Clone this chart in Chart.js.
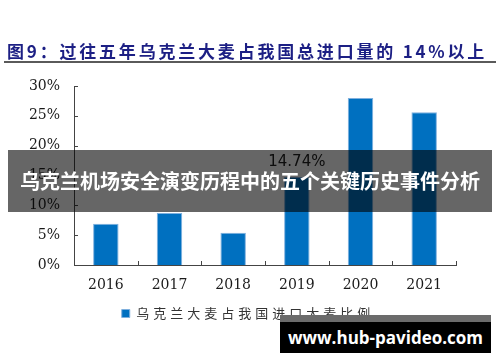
<!DOCTYPE html>
<html>
<head>
<meta charset="utf-8">
<script src="https://cdn.jsdelivr.net/npm/chart.js@4/dist/chart.umd.min.js"></script>
<style>
  html, body { margin: 0; padding: 0; background: #fff; }
  #wrap { position: relative; width: 500px; height: 362px; overflow: hidden; }
  #chart { position: absolute; left: 0; top: 0; }
  .title {
    position: absolute; left: 7px; top: 38px; white-space: nowrap;
    font: bold 17px "Noto Sans CJK SC", sans-serif; letter-spacing: 2.8px; color: #1c1f84;
  }
  .rule { position: absolute; left: 4px; top: 61px; width: 492px; height: 2px; background: #5a5a5a; }
  .banner {
    position: absolute; left: 8px; top: 150px; width: 484px; height: 62px;
    background: rgba(0, 0, 0, 0.6); color: #fff; text-align: center;
    font: bold 20px/62px "Noto Sans CJK SC", sans-serif; white-space: nowrap;
  }
  .mark {
    position: absolute; left: 280px; top: 315px; width: 211px; height: 31px;
    border-top: 7px solid #6b6b6b; background: #000; color: #fff; text-align: center;
    font: bold 17px/31px "Open Sans", sans-serif; white-space: nowrap;
  }
</style>
</head>
<body>
<div id="wrap">
  <canvas id="chart" width="500" height="362"></canvas>
  <div class="title">图9：过往五年乌克兰大麦占我国总进口量的 14%以上</div>
  <div class="rule"></div>
  <div class="banner">乌克兰机场安全演变历程中的五个关键历史事件分析</div>
  <div class="mark">www.hub-pavideo.com</div>
</div>
<script>
"use strict";

const years = ["2016", "2017", "2018", "2019", "2020", "2021"];
const shares = [6.9, 8.7, 5.4, 14.74, 28.0, 25.6];
const labelled = ["", "", "", "14.74%", "", ""];
const seriesName = "乌克兰大麦占我国进口大麦比例";
const yTicks = [0, 5, 10, 15, 20, 25, 30];

const kSerif = "'DejaVu Serif', 'Liberation Serif', serif";

// small ticks pointing into the plot, like the source figure
const innerTicks = {
    id: "innerTicks",
    afterDraw(chart) {
        const { ctx, chartArea: area, scales: { y } } = chart;
        ctx.save();
        ctx.strokeStyle = "#444";
        ctx.lineWidth = 1;
        ctx.beginPath();
        for (const v of yTicks) {
            const py = Math.round(y.getPixelForValue(v)) + 0.5;
            ctx.moveTo(area.left, py);
            ctx.lineTo(area.left + 4, py);
        }
        const step = (area.right - area.left) / years.length;
        for (let i = 1; i <= years.length; i++) {
            const px = Math.round(area.left + i * step) + 0.5;
            ctx.moveTo(px, area.bottom);
            ctx.lineTo(px, area.bottom - 4);
        }
        ctx.stroke();
        ctx.restore();
    }
};

// value label above the 2019 bar
const valueLabels = {
    id: "valueLabels",
    afterDatasetsDraw(chart) {
        const { ctx } = chart;
        const meta = chart.getDatasetMeta(0);
        ctx.save();
        ctx.font = "15px 'DejaVu Sans', sans-serif";
        ctx.fillStyle = "#222";
        ctx.textAlign = "center";
        ctx.textBaseline = "middle";
        meta.data.forEach((bar, i) => {
            if (labelled[i]) {
                ctx.fillText(labelled[i], bar.x, bar.y - 15);
            }
        });
        ctx.restore();
    }
};

// letter-spaced legend text, nudged right to sit under the plot
const spacedLegend = {
    id: "spacedLegend",
    afterInit(chart) {
        const legend = chart.legend;
        const wrap = (fn, shift) => function wrapped(...args) {
            const ctx = this.ctx;
            ctx.save();
            ctx.letterSpacing = "4px";
            if (shift) {
                ctx.translate(20, 0);
            }
            const out = fn.apply(this, args);
            ctx.restore();
            return out;
        };
        legend.fit = wrap(legend.fit, false);
        legend.draw = wrap(legend.draw, true);
    }
};

new Chart(document.getElementById("chart").getContext("2d"), {
    type: "bar",
    data: {
        labels: years,
        datasets: [{
            label: seriesName,
            data: shares,
            backgroundColor: "#0070c0",
            borderColor: "#7fb0de",
            borderWidth: 1,
            barPercentage: 0.4,
            categoryPercentage: 1
        }]
    },
    options: {
        responsive: false,
        devicePixelRatio: 1,
        animation: false,
        layout: {
            padding: { top: 86, left: 0, right: 44, bottom: 32 }
        },
        scales: {
            x: {
                grid: { display: false, drawTicks: false },
                border: { display: true, color: "#444", width: 1 },
                ticks: { color: "#1a1a1a", padding: 12, font: { family: kSerif, size: 14 } },
                afterFit(scale) {
                    scale.height = 32;
                }
            },
            y: {
                min: 0,
                max: 30,
                grid: { display: false, drawTicks: false },
                border: { display: true, color: "#444", width: 1 },
                ticks: {
                    stepSize: 5,
                    color: "#1a1a1a",
                    padding: 14,
                    font: { family: kSerif, size: 14 },
                    callback: (v) => `${v}%`
                },
                afterFit(scale) {
                    scale.width = 74;
                }
            }
        },
        plugins: {
            legend: {
                position: "bottom",
                labels: {
                    boxWidth: 8,
                    boxHeight: 8,
                    padding: 10,
                    color: "#333",
                    font: { family: "'Noto Sans CJK SC', sans-serif", size: 13 }
                }
            },
            tooltip: { enabled: false }
        }
    },
    plugins: [innerTicks, valueLabels, spacedLegend]
});
</script>
</body>
</html>
